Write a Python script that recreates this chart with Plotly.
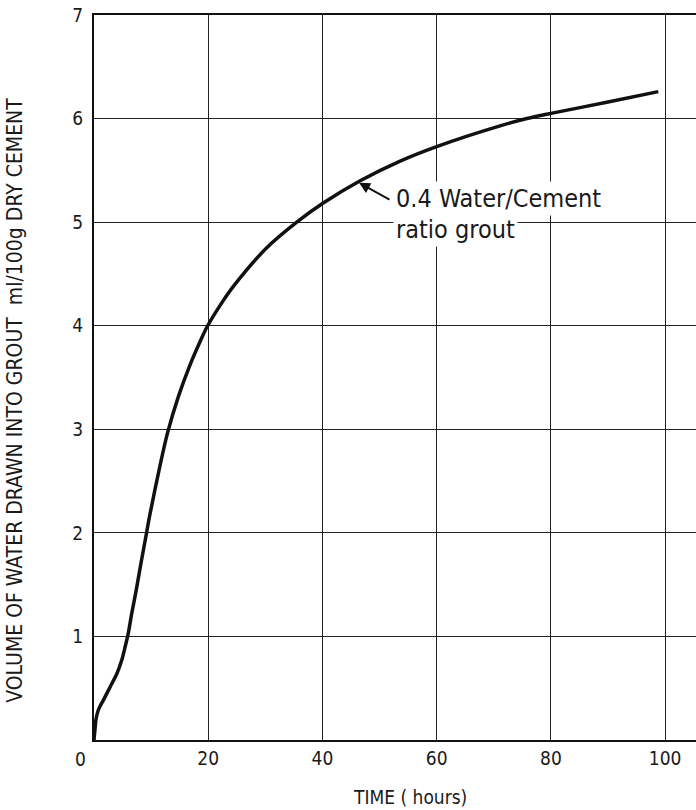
import plotly.graph_objects as go

# Water drawn into a 0.4 w/c grout over time
time_h = [0, 0.2, 0.35, 0.7, 1.1, 1.6, 2.8, 4.0, 4.85, 5.45, 6.0, 6.6, 7.4,
          8.2, 9.1, 9.8, 11.6, 12.9, 14.8, 16.8, 18.6, 19.8, 22.6, 24.4, 30.2,
          35.5, 40, 46.6, 53.6, 60, 71.1, 75.8, 80, 90, 98.8]
volume = [0, 0.12, 0.2, 0.28, 0.33, 0.38, 0.51, 0.64, 0.77, 0.9, 1.03, 1.22,
          1.45, 1.7, 1.97, 2.18, 2.66, 2.97, 3.32, 3.62, 3.85, 3.99, 4.24,
          4.38, 4.75, 5.0, 5.18, 5.40, 5.59, 5.73, 5.93, 6.0, 6.05, 6.16, 6.26]

x_ticks = [20, 40, 60, 80, 100]
y_ticks = [1, 2, 3, 4, 5, 6, 7]

FONT = "DejaVu Sans Condensed, DejaVu Sans, sans-serif"

fig = go.Figure()
fig.add_trace(go.Scatter(
    x=time_h, y=volume, mode="lines",
    line=dict(color="#111111", width=3.5, shape="spline", smoothing=0.8),
    hoverinfo="skip", showlegend=False,
))

fig.update_layout(
    width=696, height=810,
    margin=dict(l=94, r=0, t=15, b=70),
    paper_bgcolor="white", plot_bgcolor="white",
    font=dict(family=FONT, color="#1a1a1a", size=19),
    xaxis=dict(
        range=[0, 105.4], tickvals=x_ticks, ticktext=[str(v) for v in x_ticks],
        showgrid=True, gridcolor="#222222", gridwidth=1.3,
        showline=True, linecolor="#111111", linewidth=2, mirror=True,
        zeroline=False, ticks="", ticklabelstandoff=0,
        tickfont=dict(family=FONT, size=19),
    ),
    yaxis=dict(
        range=[0, 7], tickvals=y_ticks, ticktext=[str(v) for v in y_ticks],
        showgrid=True, gridcolor="#222222", gridwidth=1.3,
        showline=True, linecolor="#111111", linewidth=2,
        zeroline=False, ticks="", ticklabelstandoff=5,
        tickfont=dict(family=FONT, size=19),
    ),
    annotations=[
        # shared origin label
        dict(text="0", xref="paper", yref="paper", x=-0.023, y=-0.026,
             showarrow=False, xanchor="center", yanchor="middle",
             font=dict(family=FONT, size=19)),
        dict(text="TIME ( hours)", xref="paper", yref="paper", x=0.525, y=-0.079,
             showarrow=False, xanchor="center", yanchor="middle",
             font=dict(family=FONT, size=19)),
        dict(text="VOLUME OF WATER DRAWN INTO GROUT  ml/100g DRY CEMENT",
             xref="paper", yref="paper", x=-0.131, y=0.468, textangle=-90,
             showarrow=False, xanchor="center", yanchor="middle",
             font=dict(family=FONT, size=21)),
        # curve label with pointer; white boxes break the grid behind the text
        dict(text="", x=46.4, y=5.38, xref="x", yref="y",
             ax=52.0, ay=5.21, axref="x", ayref="y",
             showarrow=True, arrowhead=2, arrowsize=1.1, arrowwidth=2,
             arrowcolor="#111111"),
        dict(text="0.4 Water/Cement", x=52.4, y=5.23,
             xref="x", yref="y", xanchor="left", yanchor="middle",
             bgcolor="white", borderpad=2,
             showarrow=False, font=dict(family=FONT, size=25)),
        dict(text="ratio grout", x=52.4, y=4.93,
             xref="x", yref="y", xanchor="left", yanchor="middle",
             bgcolor="white", borderpad=2,
             showarrow=False, font=dict(family=FONT, size=25)),
    ],
)

fig.write_html("out.html")
